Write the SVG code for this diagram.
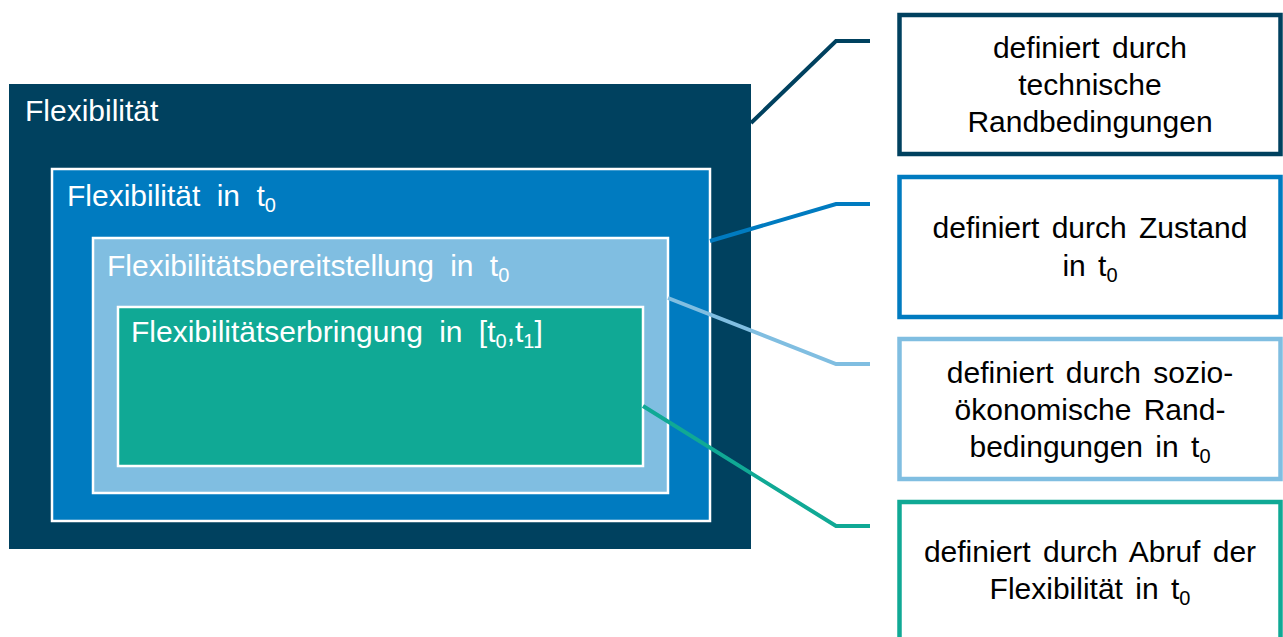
<svg xmlns="http://www.w3.org/2000/svg" width="1283" height="637" viewBox="0 0 1283 637">
<style>
text{font-family:"Liberation Sans",Arial,sans-serif;font-size:30px;word-spacing:4px}
.w{fill:#ffffff;word-spacing:8px}
.k{fill:#000000;text-anchor:middle}
.s{font-size:20px}
.inner{stroke:#ffffff;stroke-width:2.5}
.box{fill:#ffffff;stroke-width:4.5}
.c{fill:none;stroke-width:4;stroke-linejoin:miter}
</style>
<rect width="1283" height="637" fill="#ffffff"/>
<g id="n-flex">
<rect x="9" y="84" width="742" height="465" fill="#00415f"/>
<text class="w" x="25" y="121">Flexibilität</text>
</g>
<g id="n-flex-t0">
<rect class="inner" x="52" y="169" width="658" height="352" fill="#007bc0"/>
<text class="w" x="67" y="206">Flexibilität in t<tspan class="s" dy="6">0</tspan></text>
</g>
<g id="n-bereit">
<rect class="inner" x="93" y="238" width="575" height="255" fill="#80bee1"/>
<text class="w" x="107" y="276">Flexibilitätsbereitstellung in t<tspan class="s" dy="6">0</tspan></text>
</g>
<g id="n-erbring">
<rect class="inner" x="118" y="307" width="525" height="159" fill="#10a995"/>
<text class="w" x="131" y="342">Flexibilitätserbringung in [t<tspan class="s" dy="6">0</tspan><tspan dy="-6">,t</tspan><tspan class="s" dy="6">1</tspan><tspan dy="-6">]</tspan></text>
</g>
<g id="connectors">
<polyline class="c" stroke="#00415f" points="751,123 836,41 870,41"/>
<polyline class="c" stroke="#007bc0" points="710,241 836,204 870,204"/>
<polyline class="c" stroke="#80bee1" points="668,298 836,364 870,364"/>
<polyline class="c" stroke="#10a995" points="643,406 836,526 870,526"/>
</g>
<g id="d-tech">
<rect class="box" x="899.5" y="15" width="381" height="139" stroke="#00415f"/>
<text class="k" x="1090" y="58">definiert durch</text>
<text class="k" x="1090" y="95">technische</text>
<text class="k" x="1090" y="132">Randbedingungen</text>
</g>
<g id="d-zustand">
<rect class="box" x="899.5" y="177" width="381" height="140" stroke="#007bc0"/>
<text class="k" x="1090" y="238">definiert durch Zustand</text>
<text class="k" x="1090" y="276">in t<tspan class="s" dy="6">0</tspan></text>
</g>
<g id="d-sozio">
<rect class="box" x="899.5" y="339" width="381" height="140" stroke="#80bee1"/>
<text class="k" x="1090" y="383">definiert durch sozio-</text>
<text class="k" x="1090" y="420">ökonomische Rand-</text>
<text class="k" x="1090" y="457">bedingungen in t<tspan class="s" dy="6">0</tspan></text>
</g>
<g id="d-abruf">
<rect class="box" x="899.5" y="502" width="381" height="160" stroke="#10a995"/>
<text class="k" x="1090" y="562">definiert durch Abruf der</text>
<text class="k" x="1090" y="599">Flexibilität in t<tspan class="s" dy="6">0</tspan></text>
</g>
</svg>
